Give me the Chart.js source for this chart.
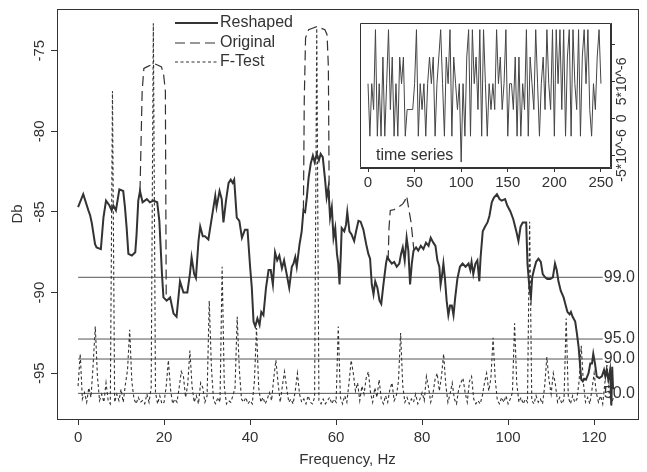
<!DOCTYPE html>
<html>
<head>
<meta charset="utf-8">
<title>Reshaped spectrum</title>
<script src="https://cdn.jsdelivr.net/npm/chart.js@4.4.0/dist/chart.umd.min.js"></script>
<style>
  body { margin: 0; background: #fff; }
  #wrap { position: relative; width: 647px; height: 472px; }
  #mainChart { position: absolute; left: 0; top: 0; }
  #insetChart { position: absolute; left: 350px; top: 10px; }
</style>
</head>
<body>
<div id="wrap">
  <canvas id="mainChart" width="647" height="472"></canvas>
  <canvas id="insetChart" width="290" height="190"></canvas>
</div>
<script>
// spectrum, frequency in Hz, level in Db
const reshapedFreq = [
  0, 1.2, 2.4, 2.8, 3.2, 3.95, 4.3, 5.3, 5.9, 6.5, 7.3, 7.8, 8.2, 8.8, 9.6, 10.5, 10.9, 11.3, 11.7, 12.5,
  13.3, 13.6, 14.0, 14.4, 15.0, 16.0, 16.7, 17.5, 18.4, 18.9, 19.5, 19.85, 20.6, 21.4, 22.2, 22.9, 23.7, 24.5, 25.4, 26.0,
  26.4, 27.0, 27.4, 28.0, 28.4, 29.0, 29.5, 30.3, 31.1, 31.9, 32.2, 32.9, 33.4, 33.8, 34.4, 35.0, 35.5, 35.95, 36.3, 36.9,
  37.5, 38.1, 38.8, 39.4, 40.0, 40.4, 40.8, 41.2, 41.7, 42.2, 42.6, 43.1, 43.7, 44.3, 44.8, 45.3, 45.8, 46.3, 46.8, 47.4,
  47.9, 48.5, 49.1, 49.7, 50.1, 50.5, 50.85, 51.5, 52.0, 52.4, 52.8, 53.2, 53.6, 54.1, 54.6, 55.0, 55.5, 56.0, 56.4, 56.9,
  57.4, 57.8, 58.2, 58.6, 59.0, 59.4, 59.8, 60.2, 60.5, 60.8, 61.1, 61.3, 61.9, 62.3, 62.6, 63.1, 63.6, 64.2, 64.65, 65.2,
  65.7, 66.35, 67.0, 67.5, 67.9, 68.3, 68.7, 69.1, 69.6, 70.1, 70.5, 71.0, 71.6, 71.9, 72.4, 72.95, 73.5, 74.1, 74.7, 75.1,
  75.5, 75.95, 76.4, 76.8, 77.2, 77.6, 78.0, 78.6, 79.1, 79.7, 80.3, 80.9, 81.5, 82.0, 82.6, 83.1, 83.55, 84.0, 84.3, 84.65,
  84.95, 85.3, 85.7, 86.1, 86.5, 86.9, 87.3, 87.7, 88.2, 88.8, 89.4, 90.1, 90.8, 91.2, 91.5, 91.9, 92.4, 92.85, 93.3, 93.6,
  94.1, 94.65, 95.2, 95.65, 96.2, 96.7, 97.4, 98.0, 98.5, 99.3, 99.8, 100.5, 101.2, 101.9, 102.4, 102.9, 103.4, 104.2, 104.5, 104.95,
  105.3, 105.6, 106.0, 106.5, 107.05, 107.6, 108.05, 108.6, 109.1, 109.8, 110.4, 110.9, 111.3, 111.7, 112.25, 112.9, 113.3, 113.8, 114.3, 114.6,
  115.0, 115.6, 116.0, 116.4, 116.7, 117.0, 117.35, 117.7, 118.1, 118.7, 119.1, 119.5, 119.8, 120.2, 120.6, 121.2, 121.8, 122.3, 122.6, 122.9,
  123.3, 123.7, 124.0, 124.2, 124.4
];
const reshapedDb = [
  -84.7, -83.9, -84.9, -85.2, -85.7, -87.0, -87.2, -87.3, -85.35, -84.3, -84.6, -84.9, -84.6, -84.9, -83.6, -83.7, -84.7, -86.0, -87.6, -87.7,
  -87.5, -86.4, -84.3, -83.7, -84.4, -84.2, -84.4, -84.3, -84.4, -85.55, -88.8, -90.3, -90.5, -90.3, -91.3, -91.5, -89.3, -90.0, -90.0, -88.85,
  -87.8, -88.85, -89.1, -86.8, -85.9, -86.5, -86.5, -86.7, -85.35, -84.0, -84.7, -83.7, -84.2, -85.65, -84.3, -83.2, -83.0, -83.2, -83.0, -85.35,
  -85.55, -86.6, -86.1, -86.1, -88.4, -89.7, -91.8, -92.1, -91.6, -92.0, -91.2, -91.4, -89.7, -88.6, -88.6, -89.5, -87.5, -88.0, -87.7, -88.5,
  -88.0, -88.85, -89.7, -88.4, -88.2, -87.8, -88.4, -87.0, -86.2, -84.9, -85.0, -84.1, -82.9, -82.0, -81.5, -81.9, -81.4, -81.8, -81.4, -81.6,
  -82.9, -84.1, -83.5, -85.35, -84.7, -86.6, -86.0, -87.6, -88.2, -89.5, -87.6, -86.0, -86.2, -85.8, -85.0, -86.2, -86.4, -86.8, -86.2, -85.55,
  -85.6, -86.1, -87.0, -87.6, -87.9, -89.5, -90.1, -89.3, -89.7, -90.5, -90.7, -89.5, -88.2, -87.8, -88.0, -88.2, -88.1, -88.4, -88.2, -87.6,
  -87.2, -88.0, -86.6, -87.4, -89.5, -88.2, -87.4, -87.2, -87.4, -87.1, -87.3, -86.9, -87.1, -86.6, -86.9, -87.1, -88.0, -88.4, -89.5, -88.9,
  -88.2, -89.1, -90.5, -91.4, -90.8, -90.8, -91.4, -90.3, -89.15, -88.4, -88.2, -88.4, -88.2, -88.6, -88.1, -88.85, -88.2, -88.0, -89.3, -87.8,
  -86.2, -85.9, -85.65, -85.25, -84.4, -84.1, -83.9, -84.2, -84.3, -84.2, -84.6, -84.95, -85.45, -86.2, -86.8, -85.9, -85.65, -85.65, -88.2, -89.7,
  -90.3, -89.05, -88.6, -88.1, -87.9, -88.1, -88.85, -89.05, -89.15, -89.15, -89.05, -88.2, -88.6, -89.3, -89.9, -90.3, -90.7, -91.2, -91.35, -91.2,
  -91.5, -91.8, -92.55, -93.4, -94.4, -95.4, -95.5, -95.35, -95.4, -95.0, -94.4, -94.4, -93.8, -94.4, -95.2, -95.3, -95.2, -94.8, -95.2, -94.8,
  -95.4, -94.8, -97.0, -94.6, -96.0
];

// original spectrum, only where it leaves the reshaped one (null = break)
const originalFreq = [
  14.4, 14.9, 15.3, 16.0, 16.8, 17.7, 18.6, 19.4, 19.9, 20.3, 20.5, 20.5,
  52.4, 52.6, 52.9, 53.6, 54.5, 55.5, 56.5, 57.4, 57.9, 58.2, 58.4, 58.4,
  72.1, 72.3, 72.6, 73.5, 74.5, 75.5, 76.0, 76.4, 76.9, 77.4, 77.8, 78.1
];
const originalDb = [
  -83.7, -77.5, -76.1, -76.0, -75.9, -75.8, -75.9, -76.0, -76.5, -77.5, -90.4, null,
  -84.9, -78.0, -74.2, -73.7, -73.6, -73.5, -73.6, -73.7, -74.0, -76.0, -84.3, null,
  -88.0, -86.0, -84.9, -84.85, -84.7, -84.5, -84.3, -84.0, -84.8, -85.6, -86.6, -87.4
];

// F-test, one value every 0.5 Hz from 0 Hz
const ftestStep = 0.5;
const ftestDb = [
  -95.8, -93.8, -96.6, -96.2, -96.8, -95.9, -96.5, -94.5, -92.1, -95.2, -96.7, -96.3, -96.8, -95.6, -96.7, -96.9, -77.5, -96.8, -96.3, -96.7,
  -96.0, -96.8, -95.7, -94.8, -92.3, -95.5, -96.6, -96.9, -96.5, -96.8, -96.7, -96.9, -96.3, -96.8, -95.9, -73.3, -96.2, -96.9, -96.4, -96.9,
  -96.8, -95.8, -94.2, -96.0, -96.9, -96.6, -96.8, -95.9, -94.9, -95.2, -96.5, -95.7, -93.6, -95.8, -96.8, -96.4, -96.9, -95.6, -95.9, -96.8,
  -96.4, -90.5, -94.6, -96.7, -96.9, -96.5, -96.8, -88.4, -95.8, -96.9, -96.7, -96.8, -96.4, -95.9, -91.5, -94.8, -96.6, -96.8, -96.5, -96.9,
  -96.7, -96.9, -95.5, -92.2, -95.9, -96.8, -96.5, -96.9, -96.6, -96.2, -96.7, -95.3, -94.2, -95.6, -96.8, -95.8, -94.9, -95.9, -96.8, -96.6,
  -96.9, -96.1, -95.0, -96.3, -96.8, -96.6, -96.9, -96.4, -96.8, -96.9, -96.5, -73.6, -96.7, -96.9, -96.6, -96.9, -96.7, -96.5, -96.9, -96.6,
  -96.8, -92.1, -96.5, -96.9, -96.4, -96.8, -95.6, -94.2, -95.0, -96.1, -95.6, -96.7, -95.8, -96.3, -95.3, -94.9, -96.2, -96.8, -95.9, -96.5,
  -95.4, -96.6, -96.9, -96.4, -96.8, -96.0, -95.6, -96.7, -96.4, -95.5, -92.5, -95.8, -96.8, -96.5, -96.9, -96.6, -96.8, -96.3, -96.9, -96.6,
  -96.2, -96.7, -95.2, -95.9, -96.8, -96.3, -95.4, -95.0, -96.1, -95.2, -93.8, -95.7, -96.8, -96.3, -95.6, -96.6, -96.9, -96.0, -95.6, -95.3,
  -96.2, -96.8, -95.5, -95.2, -96.6, -96.9, -96.7, -96.9, -96.4, -95.6, -95.0, -96.1, -95.3, -92.8, -95.4, -96.7, -96.9, -96.5, -96.8, -96.4,
  -96.9, -96.6, -96.2, -91.9, -95.6, -96.8, -96.5, -96.9, -96.6, -96.8, -85.6, -96.7, -96.9, -96.4, -96.8, -96.6, -96.9, -95.8, -94.0, -95.4,
  -96.3, -95.0, -95.7, -96.8, -96.5, -96.9, -96.6, -91.6, -96.5, -96.9, -96.4, -96.8, -96.6, -95.5, -93.3, -95.6, -96.8, -96.5, -96.9, -96.0,
  -95.0, -96.2, -96.8, -96.4, -96.9, -95.6, -94.5, -96.2, -96.9, -96.5
];

// significance levels of the F-test
const thresholdDb = [-89.05, -92.88, -94.12, -96.25];
const thresholdLabels = ['99.0', '95.0', '90.0', '50.0'];
const thresholdRange = [0, 122];

const freqTicks = [0, 20, 40, 60, 80, 100, 120];
const dbTicks = [-95, -90, -85, -80, -75];

// inset: time series, one value every 2 samples, in units of 10^-6
const seriesStep = 2;
const seriesVal = [
  4.7, -2.4, 4.7, 1.2, 12, -2.4, 4.7, -2.4, 8.3, -2.4, 4.7, 12, 1.2, 8.3, -2.4, 4.7, -2.4, 8.3, 4.7, 8.3,
  -2.4, 1.2, 1.2, 1.2, 1.2, 4.7, 12, -2.4, 4.7, 1.2, 4.7, -2.4, 4.7, 8.3, 4.7, 8.3, -2.4, 4.7, 8.3, 12,
  4.7, -2.4, 8.3, 4.7, 12, -2.4, 8.3, 4.7, 1.2, 4.7, -5.9, 4.7, -2.4, 8.3, 12, -2.4, 12, 4.7, 8.3, 1.2,
  12, -2.4, 12, 4.7, -2.4, 4.7, 1.2, 4.7, 1.2, 12, 4.7, 8.3, 1.2, 4.7, 12, -2.4, 4.7, 4.7, 1.2, 8.3,
  -2.4, 8.3, -2.4, 4.7, 1.2, 12, -2.4, 8.3, 4.7, 1.2, 12, 4.7, -2.4, 4.7, 8.3, 1.2, 12, 4.7, 1.2, 12,
  -2.4, 12, 4.7, 12, 1.2, 12, -2.4, 8.3, 12, -2.4, 12, 4.7, 1.2, 12, -2.4, 8.3, 12, 4.7, 12, 1.2,
  -2.4, 4.7, 1.2, 8.3, 12, 4.7
];
const seriesTicks = [0, 50, 100, 150, 200, 250];
const seriesLevelTicks = [-5, 0, 5, 10];

const ink = '#333';
const fontFamily = "'Liberation Sans', Arial, sans-serif";
Chart.defaults.font.family = fontFamily;
Chart.defaults.color = ink;

function toPoints(xs, ys) {
  return xs.map((x, i) => ({ x: x, y: ys[i] }));
}

// an axis that only draws its line: used for the top and right sides of the box
function boxSide(position, axis, min, max) {
  return {
    type: 'linear',
    position: position,
    axis: axis,
    display: true,
    min: min,
    max: max,
    afterFit: s => { if (axis === 'x') { s.height = 0; } else { s.width = 0; } },
    grid: { drawOnChartArea: false, drawTicks: false },
    border: { display: true, color: ink, width: 1 },
    ticks: { display: false }
  };
}

function drawFrame(chart) {
  const a = chart.chartArea;
  const ctx = chart.ctx;
  const l = Math.round(a.left) + 0.5;
  const t = Math.round(a.top) + 0.5;
  const r = Math.round(a.right) - 0.5;
  const b = Math.round(a.bottom) - 0.5;
  ctx.save();
  ctx.setLineDash([]);
  ctx.strokeStyle = ink;
  ctx.lineWidth = 1;
  ctx.beginPath();
  ctx.moveTo(l, t);
  ctx.lineTo(r, t);
  ctx.lineTo(r, b);
  ctx.lineTo(l, b);
  ctx.closePath();
  ctx.stroke();
  ctx.restore();
}

const legendBox = {
  id: 'legendBox',
  afterDraw(chart) {
    const ctx = chart.ctx;
    const rows = [23, 43, 62];
    ctx.save();
    ctx.font = '16px ' + fontFamily;
    ctx.fillStyle = ink;
    ctx.textBaseline = 'middle';
    rows.forEach((y, i) => {
      const ds = chart.data.datasets[i];
      ctx.strokeStyle = ds.borderColor;
      ctx.lineWidth = ds.borderWidth;
      ctx.setLineDash(ds.borderDash || []);
      ctx.beginPath();
      ctx.moveTo(175, y);
      ctx.lineTo(218, y);
      ctx.stroke();
      ctx.fillText(ds.label, 220, y);
    });
    ctx.restore();
  }
};

const thresholdText = {
  id: 'thresholdText',
  afterDatasetsDraw(chart) {
    const ctx = chart.ctx;
    const xs = chart.scales.x;
    const ys = chart.scales.y;
    ctx.save();
    ctx.font = '16px ' + fontFamily;
    ctx.fillStyle = ink;
    ctx.textBaseline = 'middle';
    thresholdDb.forEach((v, i) => {
      ctx.fillText(thresholdLabels[i], xs.getPixelForValue(thresholdRange[1]) + 1, ys.getPixelForValue(v));
    });
    ctx.restore();
  }
};

const datasets = [
  { label: 'Reshaped', data: toPoints(reshapedFreq, reshapedDb), borderColor: ink, borderWidth: 2 },
  { label: 'Original', data: toPoints(originalFreq, originalDb), borderColor: ink, borderWidth: 1.2, borderDash: [10, 5] },
  { label: 'F-Test', data: ftestDb.map((v, i) => ({ x: i * ftestStep, y: v })), borderColor: ink, borderWidth: 1.1, borderDash: [3, 2.5] }
];
thresholdDb.forEach((v, i) => {
  datasets.push({
    label: thresholdLabels[i],
    data: thresholdRange.map(x => ({ x: x, y: v })),
    borderColor: '#555',
    borderWidth: 1
  });
});

new Chart(document.getElementById('mainChart'), {
  type: 'line',
  data: { datasets: datasets },
  options: {
    responsive: false,
    animation: false,
    layout: { padding: { left: 0, top: 7, right: 9, bottom: 0 } },
    elements: { point: { radius: 0 }, line: { tension: 0, borderCapStyle: 'butt' } },
    plugins: { legend: { display: false }, tooltip: { enabled: false } },
    scales: {
      x: {
        type: 'linear',
        min: -4.9,
        max: 130.2,
        afterBuildTicks: s => { s.ticks = freqTicks.map(v => ({ value: v })); },
        afterFit: s => { s.height = 53; },
        grid: { drawOnChartArea: false, tickLength: 6, color: ink },
        border: { display: true, color: ink },
        ticks: { font: { size: 15 }, padding: 4, maxRotation: 0, autoSkip: false, color: ink },
        title: { display: true, text: 'Frequency, Hz', font: { size: 15 }, padding: { top: 0, bottom: 3 }, color: ink }
      },
      y: {
        type: 'linear',
        min: -97.84,
        max: -72.41,
        afterBuildTicks: s => { s.ticks = dbTicks.map(v => ({ value: v })); },
        afterFit: s => { s.width = 57; },
        grid: { drawOnChartArea: false, tickLength: 6, color: ink },
        border: { display: true, color: ink },
        ticks: { font: { size: 15 }, minRotation: 90, maxRotation: 90, crossAlign: 'center', padding: 0, autoSkip: false, color: ink },
        title: { display: true, text: 'Db', font: { size: 15 }, padding: { top: 9, bottom: 0 }, color: ink }
      },
      xTop: boxSide('top', 'x', -4.9, 130.2),
      yRight: boxSide('right', 'y', -97.84, -72.41)
    }
  },
  plugins: [legendBox, thresholdText]
});

const insetLabel = {
  id: 'insetLabel',
  afterDraw(chart) {
    drawFrame(chart);
    const ctx = chart.ctx;
    ctx.save();
    ctx.font = '16px ' + fontFamily;
    ctx.fillStyle = ink;
    ctx.textBaseline = 'middle';
    ctx.fillText('time series', chart.chartArea.left + 16, chart.chartArea.bottom - 12);
    ctx.restore();
  }
};

new Chart(document.getElementById('insetChart'), {
  type: 'line',
  data: {
    datasets: [{
      label: 'time series',
      data: seriesVal.map((v, i) => ({ x: i * seriesStep, y: v })),
      borderColor: '#444',
      borderWidth: 1
    }]
  },
  options: {
    responsive: false,
    animation: false,
    layout: { padding: { left: 10, top: 13, right: 0, bottom: 0 } },
    elements: { point: { radius: 0 }, line: { tension: 0 } },
    plugins: { legend: { display: false }, tooltip: { enabled: false } },
    scales: {
      x: {
        type: 'linear',
        min: -8.6,
        max: 260.8,
        afterBuildTicks: s => { s.ticks = seriesTicks.map(v => ({ value: v })); },
        afterFit: s => { s.height = 32; },
        grid: { drawOnChartArea: false, tickLength: 4, color: ink },
        border: { display: true, color: ink },
        ticks: { font: { size: 15 }, padding: 2, maxRotation: 0, autoSkip: false, color: ink }
      },
      y: {
        type: 'linear',
        position: 'right',
        min: -6.7,
        max: 12.9,
        afterBuildTicks: s => { s.ticks = seriesLevelTicks.map(v => ({ value: v })); },
        afterFit: s => { s.width = 29; },
        grid: { drawOnChartArea: false, tickLength: 4, color: ink },
        border: { display: true, color: ink },
        ticks: {
          font: { size: 14 }, minRotation: 90, maxRotation: 90, crossAlign: 'center', padding: -19, autoSkip: false, color: ink,
          callback: v => v === 0 ? '0' : (v === 10 ? '' : v + '*10^-6')
        }
      }
    }
  },
  plugins: [insetLabel]
});
</script>
</body>
</html>
